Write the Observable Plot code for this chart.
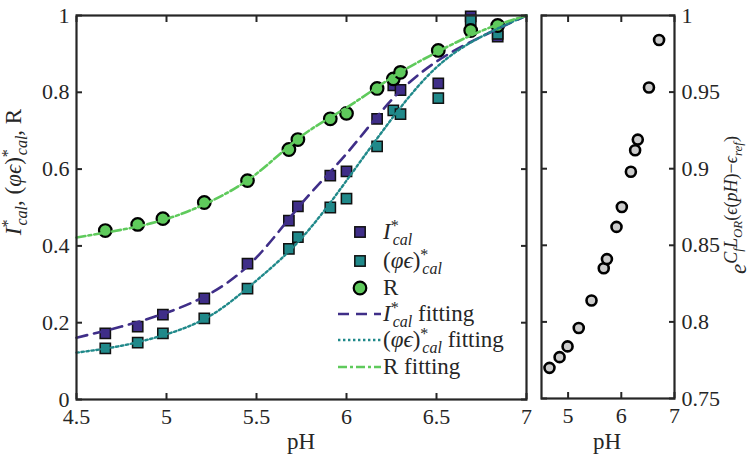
<!DOCTYPE html>
<html><head><meta charset="utf-8">
<script src="https://cdn.jsdelivr.net/npm/d3@7"></script>
<script src="https://cdn.jsdelivr.net/npm/@observablehq/plot@0.6"></script>
<style>
body{margin:0;background:#fff;}
#c{position:relative;width:750px;height:463px;font-family:'Liberation Serif','DejaVu Serif',serif;overflow:hidden;}
#c > svg{position:absolute;top:0;}
#c text{font-family:'Liberation Serif','DejaVu Serif',serif;}
</style></head><body><div id="c"></div>
<script>
// ---- data (left panel) ----
const pH     = [4.66,4.84,4.98,5.21,5.45,5.68,5.73,5.91,6.00,6.17,6.26,6.30,6.51,6.69,6.84];
const Ical   = [0.172,0.190,0.221,0.263,0.354,0.466,0.503,0.583,0.594,0.731,0.818,0.806,0.823,0.998,0.945];
const PhiEps = [0.133,0.148,0.172,0.211,0.289,0.392,0.423,0.500,0.523,0.659,0.753,0.743,0.785,0.987,0.952];
const Rval   = [0.440,0.456,0.471,0.513,0.570,0.651,0.677,0.731,0.745,0.810,0.835,0.852,0.909,0.961,0.974];
// fitted curves
const fitPH  = [4.5,4.75,5.0,5.25,5.5,5.75,6.0,6.25,6.5,6.75,7.0];
const fitI   = [0.161,0.190,0.226,0.278,0.370,0.510,0.640,0.780,0.880,0.945,1.0];
const fitPE  = [0.122,0.140,0.170,0.220,0.310,0.420,0.570,0.730,0.865,0.945,1.0];
const fitR   = [0.422,0.442,0.470,0.517,0.588,0.686,0.760,0.838,0.904,0.960,1.0];
// ---- data (right panel) ----
const pH2 = [4.65,4.84,4.99,5.20,5.44,5.67,5.73,5.91,6.01,6.18,6.26,6.31,6.52,6.71];
const Eexp = [0.770,0.777,0.784,0.796,0.814,0.835,0.841,0.862,0.875,0.898,0.912,0.919,0.953,0.984];
// ---- ticks ----
const xTicksL = [4.5,5,5.5,6,6.5,7];
const yTicksL = [0,0.2,0.4,0.6,0.8,1];
const xTicksR = [5,6,7];
const yTicksR = [0.75,0.8,0.85,0.9,0.95,1];

const cPurple = "#3F2E88", cTeal = "#20898A", cGreen = "#5FCA5C", cAxis = "#262626";
const FONT = "'Liberation Serif','DejaVu Serif',serif";
const FS = 22;

const pts = pH.map((x,i)=>({x, I:Ical[i], P:PhiEps[i], R:Rval[i]}));
const fit = fitPH.map((x,i)=>({x, I:fitI[i], P:fitPE[i], R:fitR[i]}));
const right = pH2.map((x,i)=>({x, y:Eexp[i]}));
const fmt = d => String(d);
const blank = () => "";

function axesFor(xt, yt, yAnchor) {
  const other = yAnchor === "left" ? "right" : "left";
  return [
    Plot.axisX(xt, {anchor:"bottom", tickSize:0, tickPadding:9, tickFormat:fmt, label:null}),
    Plot.axisX(xt, {anchor:"bottom", tickSize:-6, tickFormat:blank, label:null, stroke:cAxis, strokeWidth:2}),
    Plot.axisX(xt, {anchor:"top", tickSize:-6, tickFormat:blank, label:null, stroke:cAxis, strokeWidth:2}),
    Plot.axisY(yt, {anchor:yAnchor, tickSize:0, tickPadding:7, tickFormat:fmt, label:null}),
    Plot.axisY(yt, {anchor:yAnchor, tickSize:-6, tickFormat:blank, label:null, stroke:cAxis, strokeWidth:2}),
    Plot.axisY(yt, {anchor:other, tickSize:-6, tickFormat:blank, label:null, stroke:cAxis, strokeWidth:2}),
    Plot.frame({stroke:cAxis, strokeWidth:2.2})
  ];
}

const left = Plot.plot({
  width:545, height:463,
  marginLeft:76, marginRight:19, marginTop:15, marginBottom:64,
  style:{fontFamily:FONT, fontSize:FS+"px", color:"#262626", background:"transparent", overflow:"visible"},
  x:{domain:[4.5,7]},
  y:{domain:[0,1]},
  marks:[
    Plot.dot(pts, {x:"x", y:"I", symbol:"square", r:5.8, fill:cPurple, stroke:"#111", strokeWidth:1.5}),
    Plot.dot(pts, {x:"x", y:"P", symbol:"square", r:5.8, fill:cTeal, stroke:"#111", strokeWidth:1.5}),
    Plot.dot(pts, {x:"x", y:"R", r:6.3, fill:cGreen, stroke:"#000", strokeWidth:2.2}),
    Plot.line(fit, {x:"x", y:"I", curve:"natural", stroke:cPurple, strokeWidth:2.6, strokeDasharray:"11,7"}),
    Plot.line(fit, {x:"x", y:"P", curve:"natural", stroke:cTeal, strokeWidth:2.4, strokeDasharray:"2.4,2.6"}),
    Plot.line(fit, {x:"x", y:"R", curve:"natural", stroke:cGreen, strokeWidth:2.6, strokeDasharray:"9,3,3,3"}),
    ...axesFor(xTicksL, yTicksL, "left")
  ]
});
left.style.left = "0px";

const rightPlot = Plot.plot({
  width:220, height:463,
  marginLeft:11, marginRight:76, marginTop:15, marginBottom:65,
  style:{fontFamily:FONT, fontSize:FS+"px", color:"#262626", background:"transparent", overflow:"visible"},
  x:{domain:[4.5,7]},
  y:{domain:[0.75,1]},
  marks:[
    Plot.dot(right, {x:"x", y:"y", r:5, fill:"#CCCCCC", stroke:"#000", strokeWidth:2.6}),
    ...axesFor(xTicksR, yTicksR, "right")
  ]
});
rightPlot.style.left = "530px";

const c = document.getElementById("c");
c.appendChild(left);
c.appendChild(rightPlot);

// ---- overlay: axis titles and legend ----
const ov = d3.select(c).append("svg").attr("width",750).attr("height",463)
  .style("position","absolute").style("left","0px").style("top","0px")
  .style("overflow","visible").style("fill","#262626");

function mathText(sel, x, y, segs, rot, anchor) {
  const t = sel.append("text").attr("transform",`translate(${x},${y})` + (rot?` rotate(${rot})`:""))
    .attr("text-anchor", anchor || "middle").attr("font-family", FONT);
  let prev = 0;
  for (const s of segs) {
    const off = s.off || 0;
    const ts = t.append("tspan").text(s.t).attr("font-size", (s.sz||FS)+"px")
      .attr("dy", off - prev);
    if (s.dx) ts.attr("dx", s.dx);
    if (s.it) ts.attr("font-style","italic");
    prev = off;
  }
  return t;
}

// x labels
mathText(ov, 301, 449, [{t:"pH", sz:23}]);
mathText(ov, 607, 449, [{t:"pH", sz:23}]);

// left y label
const S1 = 16;
mathText(ov, 21, 172, [
  {t:"I", it:true, sz:23}, {t:"*", off:-8, sz:S1}, {t:"cal", off:6, sz:S1, it:true, dx:-6},
  {t:", (", off:0, sz:23}, {t:"φϵ", it:true, sz:23}, {t:")", sz:23}, {t:"*", off:-8, sz:S1}, {t:"cal", off:6, sz:S1, it:true, dx:-6},
  {t:", R", off:0, sz:23}
], -90);

// right y label
const S2 = 18, S3 = 13;
mathText(ov, 746, 205, [
  {t:"e", it:true, sz:23},
  {t:"C", off:-9, sz:S2, it:true}, {t:"f", off:-4, sz:S3, it:true},
  {t:"L", off:-9, sz:S2, it:true}, {t:"OR", off:-4, sz:S3, it:true},
  {t:"(", off:-9, sz:S2}, {t:"ϵ", off:-9, sz:S2, it:true}, {t:"(", off:-9, sz:S2},
  {t:"pH", off:-9, sz:S2, it:true}, {t:")−", off:-9, sz:S2}, {t:"ϵ", off:-9, sz:S2, it:true},
  {t:"ref", off:-4, sz:S3, it:true}, {t:")", off:-9, sz:S2}
], -90);

// legend
const lg = ov.append("g");
const rows = [232, 261, 288, 314, 340, 367];
const tx = 383;
lg.append("rect").attr("x",360-5.2).attr("y",rows[0]-5.2).attr("width",10.4).attr("height",10.4)
  .attr("fill",cPurple).attr("stroke","#111").attr("stroke-width",1.5);
lg.append("rect").attr("x",360-5.2).attr("y",rows[1]-5.2).attr("width",10.4).attr("height",10.4)
  .attr("fill",cTeal).attr("stroke","#111").attr("stroke-width",1.5);
lg.append("circle").attr("cx",360).attr("cy",rows[2]).attr("r",6.3)
  .attr("fill",cGreen).attr("stroke","#000").attr("stroke-width",2.2);
[[cPurple,"11,7",2.6],[cTeal,"2.4,2.6",2.4],[cGreen,"9,3,3,3",2.6]].forEach(([col,da,w],i)=>{
  lg.append("line").attr("x1",338).attr("x2",381).attr("y1",rows[3+i]).attr("y2",rows[3+i])
    .attr("stroke",col).attr("stroke-width",w).attr("stroke-dasharray",da);
});
const base = 7, L = 23;
mathText(lg, tx, rows[0]+base, [{t:"I",it:true,sz:L},{t:"*",off:-8,sz:S1},{t:"cal",off:6,sz:S1,it:true,dx:-6}], 0, "start");
mathText(lg, tx, rows[1]+base, [{t:"(",sz:L},{t:"φϵ",it:true,sz:L},{t:")",sz:L},{t:"*",off:-8,sz:S1},{t:"cal",off:6,sz:S1,it:true,dx:-6}], 0, "start");
mathText(lg, tx, rows[2]+base, [{t:"R",sz:L}], 0, "start");
mathText(lg, tx, rows[3]+base, [{t:"I",it:true,sz:L},{t:"*",off:-8,sz:S1},{t:"cal",off:6,sz:S1,it:true,dx:-6},{t:" fitting",off:0,sz:L}], 0, "start");
mathText(lg, tx, rows[4]+base, [{t:"(",sz:L},{t:"φϵ",it:true,sz:L},{t:")",sz:L},{t:"*",off:-8,sz:S1},{t:"cal",off:6,sz:S1,it:true,dx:-6},{t:" fitting",off:0,sz:L}], 0, "start");
mathText(lg, tx, rows[5]+base, [{t:"R fitting",sz:L}], 0, "start");
</script></body></html>
